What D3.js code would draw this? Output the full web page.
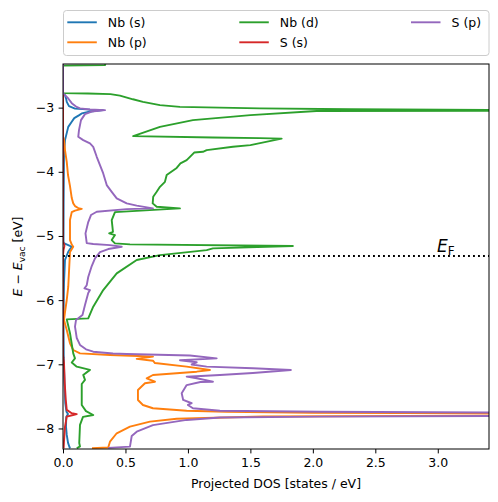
<!DOCTYPE html>
<html><head><meta charset="utf-8">
<script src="https://cdn.jsdelivr.net/npm/d3@7"></script>
<style>body{margin:0;background:#fff}svg{display:block}text{font-family:"DejaVu Sans",sans-serif}</style>
</head><body><svg id="c" width="498" height="502"></svg>
<script>
const seriesNames = ["Nb (s)", "Nb (p)", "Nb (d)", "S (s)", "S (p)"];
const seriesColors = ["#1f77b4", "#ff7f0e", "#2ca02c", "#d62728", "#9467bd"];
const xTicks = [0, 0.5, 1.0, 1.5, 2.0, 2.5, 3.0];
const yTicks = [-3, -4, -5, -6, -7, -8];
const eFermi = -5.313;
const xRange = [0, 3.41];
const yRange = [-8.32, -2.32];

// [energy (eV), projected DOS (states/eV)]
const nbS = [[-2.32,0],[-2.774,0],[-2.79,0.008],[-2.805,0.016],[-2.86,0.025],[-2.91,0.03],[-2.977,0.048],[-3.016,0.096],[-3.031,0.216],[-3.039,0.32],[-3.06,0.22],[-3.09,0.15],[-3.117,0.13],[-3.164,0.09],[-3.221,0.07],[-3.30,0.042],[-3.506,0.016],[-3.709,0.008],[-4.5,0.005],[-5.08,0.004],[-5.111,0.006],[-5.142,0.042],[-5.168,0.07],[-5.20,0.058],[-5.246,0.042],[-5.374,0.016],[-5.73,0.008],[-6.3,0.004],[-6.9,0.006],[-7.3,0.012],[-7.6,0.018],[-7.74,0.028],[-7.775,0.04],[-7.82,0.026],[-7.97,0.024],[-8.1,0.03],[-8.22,0.04],[-8.28,0.05],[-8.31,0.056]];
const nbP = [[-2.32,0],[-3.45,0],[-3.506,0.008],[-3.662,0.016],[-3.844,0.03],[-4.05,0.04],[-4.223,0.056],[-4.41,0.07],[-4.492,0.082],[-4.534,0.096],[-4.565,0.122],[-4.578,0.15],[-4.604,0.096],[-4.628,0.07],[-4.752,0.056],[-5.064,0.056],[-5.134,0.07],[-5.168,0.082],[-5.251,0.056],[-5.48,0.05],[-5.791,0.042],[-5.998,0.03],[-6.185,0.016],[-6.31,0.008],[-6.464,0.03],[-6.673,0.056],[-6.777,0.082],[-6.829,0.136],[-6.855,0.376],[-6.87,0.6],[-6.88,0.72],[-6.915,0.59],[-6.944,0.72],[-6.98,0.736],[-7.037,0.99],[-7.089,1.176],[-7.115,1.07],[-7.167,0.72],[-7.218,0.67],[-7.271,0.736],[-7.296,0.656],[-7.40,0.60],[-7.556,0.60],[-7.634,0.64],[-7.685,0.72],[-7.723,0.99],[-7.74,1.31],[-7.755,2.0],[-7.765,3.41],[-7.782,7],[-7.80,3.41],[-7.813,1.6],[-7.849,0.91],[-7.894,0.696],[-7.972,0.536],[-8.075,0.43],[-8.206,0.376],[-8.296,0.362],[-8.308,0.232]];
const nbD = [[-2.32,0.34],[-2.335,0.336],[-2.345,0],[-2.774,0],[-2.78,0.2],[-2.79,0.38],[-2.813,0.456],[-2.87,0.56],[-2.91,0.64],[-2.961,0.776],[-2.988,0.936],[-3.012,1.576],[-3.025,2.3],[-3.035,3.41],[-3.042,5.5],[-3.048,3.41],[-3.052,2.03],[-3.117,1.5],[-3.195,1.04],[-3.299,0.776],[-3.444,0.562],[-3.465,1.2],[-3.475,1.576],[-3.483,1.75],[-3.584,1.5],[-3.61,1.36],[-3.662,1.15],[-3.688,1.12],[-3.70,1.05],[-3.818,0.99],[-3.87,0.94],[-3.94,0.91],[-4.051,0.83],[-4.156,0.816],[-4.234,0.776],[-4.311,0.75],[-4.389,0.722],[-4.492,0.718],[-4.545,0.75],[-4.570,0.936],[-4.628,0.416],[-4.752,0.39],[-4.935,0.40],[-4.960,0.37],[-4.986,0.416],[-5.064,0.39],[-5.115,0.416],[-5.131,0.536],[-5.157,1.84],[-5.193,1.2],[-5.22,1.15],[-5.298,0.776],[-5.374,0.59],[-5.583,0.43],[-5.843,0.322],[-6.103,0.242],[-6.284,0.202],[-6.30,0.03],[-6.515,0.056],[-6.829,0.082],[-6.907,0.096],[-6.972,0.07],[-7.037,0.11],[-7.087,0.216],[-7.165,0.162],[-7.243,0.176],[-7.307,0.15],[-7.634,0.15],[-7.73,0.184],[-7.79,0.242],[-7.82,0.16],[-7.945,0.136],[-8.226,0.13],[-8.28,0.136],[-8.308,0.11]];
const sS = [[-2.32,0],[-5.09,0],[-5.11,0.004],[-5.14,0.012],[-5.17,0.01],[-5.22,0.004],[-5.3,0],[-6.85,0],[-6.98,0.008],[-7.3,0.014],[-7.55,0.022],[-7.71,0.03],[-7.763,0.07],[-7.776,0.11],[-7.79,0.08],[-7.816,0.03],[-7.97,0.016],[-8.2,0.008],[-8.31,0.005]];
const sP = [[-2.32,0],[-2.774,0],[-2.79,0.008],[-2.805,0.016],[-2.857,0.042],[-2.93,0.07],[-2.984,0.104],[-3.012,0.136],[-3.028,0.216],[-3.039,0.336],[-3.062,0.23],[-3.101,0.176],[-3.195,0.144],[-3.35,0.128],[-3.455,0.122],[-3.506,0.162],[-3.558,0.216],[-3.611,0.242],[-3.766,0.27],[-3.896,0.296],[-4.025,0.322],[-4.207,0.35],[-4.312,0.39],[-4.414,0.43],[-4.492,0.51],[-4.527,0.59],[-4.570,0.72],[-4.581,0.51],[-4.623,0.27],[-4.674,0.224],[-4.783,0.202],[-4.96,0.18],[-5.111,0.19],[-5.126,0.242],[-5.142,0.376],[-5.168,0.47],[-5.204,0.362],[-5.251,0.296],[-5.349,0.256],[-5.469,0.23],[-5.64,0.202],[-5.767,0.19],[-5.816,0.172],[-5.843,0.216],[-5.889,0.202],[-6.076,0.176],[-6.232,0.156],[-6.31,0.104],[-6.414,0.096],[-6.59,0.11],[-6.698,0.136],[-6.766,0.184],[-6.804,0.242],[-6.832,0.40],[-6.84,0.51],[-6.863,1.016],[-6.907,1.23],[-6.938,0.936],[-6.969,1.07],[-7.003,1.03],[-7.037,1.15],[-7.062,1.52],[-7.089,1.824],[-7.136,1.52],[-7.167,1.256],[-7.193,0.99],[-7.218,1.07],[-7.271,1.2],[-7.276,1.1],[-7.324,0.99],[-7.452,0.95],[-7.556,0.962],[-7.607,1.03],[-7.634,1.0],[-7.685,1.04],[-7.723,1.256],[-7.74,2.06],[-7.751,3.41],[-7.78,9],[-7.805,3.41],[-7.815,2.06],[-7.83,1.256],[-7.867,0.99],[-7.947,0.72],[-8.05,0.59],[-8.117,0.55],[-8.283,0.536],[-8.303,0.362]];
const allSeries = [nbS, nbP, nbD, sS, sP];

const svg = d3.select("#c");
const m = {l: 63, r: 9, t: 64, b: 53};
const W = 498, H = 502;
const x = d3.scaleLinear().domain(xRange).range([m.l, W - m.r]);
const y = d3.scaleLinear().domain(yRange).range([H - m.b, m.t]);
const fs = 12.5;

svg.append("defs").append("clipPath").attr("id", "clip")
  .append("rect").attr("x", m.l).attr("y", m.t).attr("width", W - m.r - m.l).attr("height", H - m.b - m.t);

const line = d3.line().x(d => x(d[1])).y(d => y(d[0]));
const g = svg.append("g").attr("clip-path", "url(#clip)");
allSeries.forEach((s, i) => {
  g.append("path").attr("d", line(s)).attr("fill", "none")
    .attr("stroke", seriesColors[i]).attr("stroke-width", 1.9)
    .attr("stroke-linejoin", "round").attr("stroke-linecap", "butt");
});
// Fermi level
g.append("line").attr("x1", x(xRange[0])).attr("x2", x(xRange[1]))
  .attr("y1", y(eFermi)).attr("y2", y(eFermi))
  .attr("stroke", "#000").attr("stroke-width", 1.9).attr("stroke-dasharray", "1.9,3.1");

const ef = svg.append("text").attr("x", 437).attr("y", y(eFermi) - 4).attr("font-size", 17);
ef.append("tspan").attr("font-style", "italic").text("E");
ef.append("tspan").attr("font-size", 12).attr("dy", 3).text("F");

// axes
const xAxis = svg.append("g").attr("transform", `translate(0,${H - m.b})`)
  .call(d3.axisBottom(x).tickValues(xTicks).tickFormat(d3.format(".1f")).tickSizeOuter(0).tickSize(4.4).tickPadding(4.5));
const yAxis = svg.append("g").attr("transform", `translate(${m.l},0)`)
  .call(d3.axisLeft(y).tickValues(yTicks).tickFormat(d3.format("d")).tickSizeOuter(0).tickSize(4.4).tickPadding(4.5));
[xAxis, yAxis].forEach(a => {
  a.select(".domain").remove();
  a.selectAll("text").attr("font-size", fs).attr("font-family", "DejaVu Sans").attr("fill", "#000");
  a.selectAll("line").attr("stroke", "#000").attr("stroke-width", 1);
});
svg.append("rect").attr("x", m.l).attr("y", m.t).attr("width", W - m.r - m.l).attr("height", H - m.b - m.t)
  .attr("fill", "none").attr("stroke", "#000").attr("stroke-width", 1);

svg.append("text").attr("x", (m.l + W - m.r) / 2).attr("y", 488).attr("text-anchor", "middle")
  .attr("font-size", fs).text("Projected DOS [states / eV]");
const yl = svg.append("text").attr("transform", `translate(22,${(m.t + H - m.b) / 2}) rotate(-90)`)
  .attr("text-anchor", "middle").attr("font-size", fs);
yl.append("tspan").attr("font-style", "italic").text("E");
yl.append("tspan").text(" \u2212 ");
yl.append("tspan").attr("font-style", "italic").text("E");
yl.append("tspan").attr("font-size", 9).attr("dy", 3).text("vac");
yl.append("tspan").attr("dy", -3).text(" [eV]");

// legend
const lg = svg.append("g");
lg.append("rect").attr("x", 63.5).attr("y", 10.5).attr("width", 425.5).attr("height", 45).attr("rx", 3)
  .attr("fill", "#fff").attr("fill-opacity", 0.8).attr("stroke", "#ccc").attr("stroke-width", 1);
const colX = [67.3, 239.3, 411];
const rowY = [22.3, 42.3];
const slots = [[0,0],[0,1],[1,0],[1,1],[2,0]];
seriesNames.forEach((n, i) => {
  const [c, r] = slots[i];
  lg.append("line").attr("x1", colX[c]).attr("x2", colX[c] + 29.5).attr("y1", rowY[r]).attr("y2", rowY[r])
    .attr("stroke", seriesColors[i]).attr("stroke-width", 1.9);
  lg.append("text").attr("x", colX[c] + 40.5).attr("y", rowY[r] + 4.5).attr("font-size", fs).text(n);
});
</script></body></html>
